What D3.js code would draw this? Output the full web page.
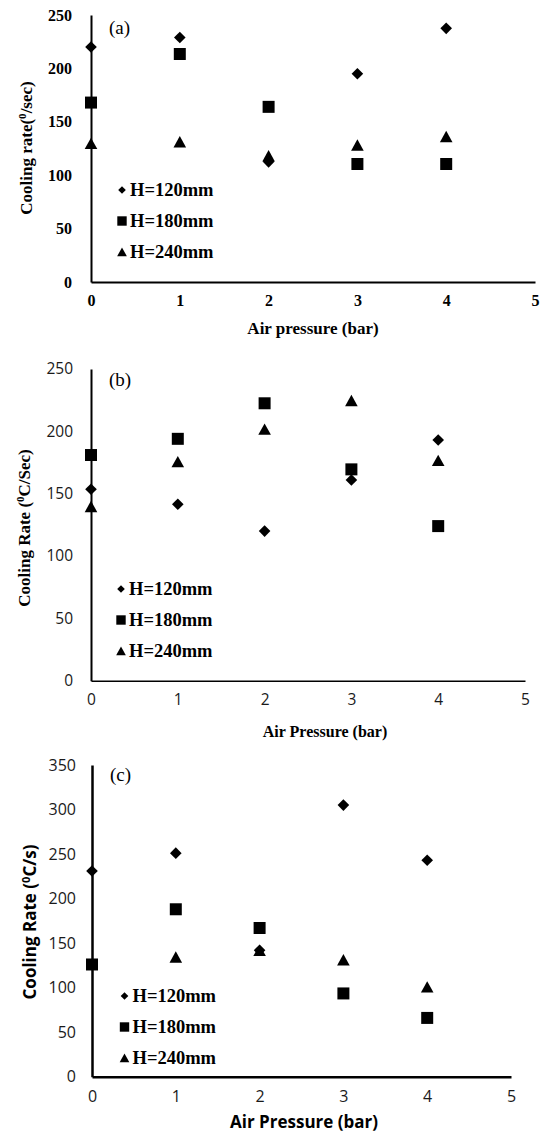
<!DOCTYPE html>
<meta charset="utf-8">
<style>
body { margin: 0; background: #fff; }
svg { display: block; }
.serif { font-family: "Liberation Serif", "Times New Roman", serif; }
.sans { font-family: "Open Sans", "Liberation Sans", sans-serif; }
</style>
<svg width="542" height="1133"></svg>
<script src="https://d3js.org/d3.v7.min.js"></script>
<script>

// data
var pressure = [0, 1, 2, 3, 4];
var xTicks = [0, 1, 2, 3, 4, 5];
var yTicksAB = [0, 50, 100, 150, 200, 250];
var yTicksC = [0, 50, 100, 150, 200, 250, 300, 350];
var legendLabels = ["H=120mm", "H=180mm", "H=240mm"];

var a120 = [220, 229, 112.5, 195, 237.5];
var a180 = [168, 213.5, 164, 110.5, 110.5];
var a240 = [129.5, 131, 118, 128, 136];

var b120 = [153.5, 141.5, 120, 161, 193];
var b180 = [181, 194, 222.5, 169.5, 124];
var b240 = [139.5, 175.5, 201.5, 224.5, 176.5];

var c120 = [231, 251, 142, 305, 243];
var c180 = [126, 188, 167, 93.5, 66];
var c240 = [null, 134, 141.5, 131, 100.5];

var svg = d3.select("svg");

// marker paths, s = half size
function diamond(s) { return "M0," + (-s) + "L" + s + ",0L0," + s + "L" + (-s) + ",0Z"; }
function square(s) { return "M" + (-s) + "," + (-s) + "h" + (2 * s) + "v" + (2 * s) + "h" + (-2 * s) + "Z"; }
function triangle(s) { return "M0," + (-s) + "L" + (s * 1.05) + "," + (s * 0.9) + "L" + (-s * 1.05) + "," + (s * 0.9) + "Z"; }
var shapes = [diamond, square, triangle];
var markerSize = [5.8, 6, 6];
var legendSize = [3.8, 4.7, 4.6];

function panel(o) {
  var x = d3.scaleLinear().domain([0, 5]).range([o.x0, o.x1]);
  var y = d3.scaleLinear().domain([0, o.ymax]).range([o.y0, o.y1]);
  var g = svg.append("g");

  var yAxis = g.append("g")
      .attr("transform", "translate(" + o.x0 + ",0)")
      .call(d3.axisLeft(y).tickValues(o.yTicks).tickFormat(d3.format("d")).tickSize(0).tickPadding(o.yPad));
  var xAxis = g.append("g")
      .attr("transform", "translate(0," + o.y0 + ")")
      .call(d3.axisBottom(x).tickValues(xTicks).tickFormat(d3.format("d")).tickSize(0).tickPadding(o.xPad));

  yAxis.select(".domain").attr("stroke", "#000").attr("stroke-width", o.yw);
  xAxis.select(".domain").attr("stroke", "#000").attr("stroke-width", o.xw);
  [yAxis, xAxis].forEach(function(a) {
    a.selectAll("text")
        .attr("class", o.tickFont)
        .attr("font-size", o.tickSize)
        .attr("font-weight", o.tickWeight)
        .attr("fill", o.tickColor);
  });

  o.series.forEach(function(vals, k) {
    g.append("g").selectAll("path")
        .data(pressure.map(function(p, i) { return [p, vals[i]]; }).filter(function(d) { return d[1] != null; }))
      .enter().append("path")
        .attr("d", shapes[k](markerSize[k]))
        .attr("transform", function(d) { return "translate(" + x(d[0]) + "," + y(d[1]) + ")"; })
        .attr("fill", "#000");
  });

  // legend
  legendLabels.forEach(function(lbl, k) {
    var cy = o.legY + k * o.legStep;
    g.append("path")
        .attr("d", shapes[k](legendSize[k]))
        .attr("transform", "translate(" + o.legX + "," + cy + ")")
        .attr("fill", "#000");
    g.append("text")
        .attr("class", "serif")
        .attr("x", o.legX + 8)
        .attr("y", cy + 6)
        .attr("font-size", 18.5)
        .attr("font-weight", "bold")
        .text(lbl);
  });

  g.append("text")
      .attr("class", "serif")
      .attr("x", o.x0 + 18)
      .attr("y", o.tagY)
      .attr("font-size", 19)
      .text(o.tag);

  g.append("text")
      .attr("class", o.xTitleFont)
      .attr("x", o.xTitleX)
      .attr("y", o.xTitleY)
      .attr("text-anchor", "middle")
      .attr("font-size", o.xTitleSize)
      .attr("font-weight", "bold")
      .text(o.xTitle);

  var yt = g.append("text")
      .attr("class", o.yTitleFont)
      .attr("transform", "translate(" + o.yTitleX + "," + o.yTitleY + ") rotate(-90)")
      .attr("text-anchor", "middle")
      .attr("font-size", o.yTitleSize)
      .attr("font-weight", "bold");
  yt.append("tspan").text(o.yTitle[0]);
  yt.append("tspan").attr("font-size", o.yTitleSize * 0.65).attr("dy", -o.yTitleSize * 0.38).text("0");
  yt.append("tspan").attr("dy", o.yTitleSize * 0.38).text(o.yTitle[1]);
}

panel({
  x0: 91, x1: 535, y0: 282, y1: 15, ymax: 250, yTicks: yTicksAB,
  yPad: 19, xPad: 12.5, yw: 2, xw: 2,
  tickFont: "serif", tickSize: 16, tickWeight: "bold", tickColor: "#000",
  series: [a120, a180, a240],
  legX: 122, legY: 190, legStep: 31,
  tag: "(a)", tagY: 34,
  xTitle: "Air pressure (bar)", xTitleFont: "serif", xTitleSize: 17, xTitleX: 313, xTitleY: 334,
  yTitle: ["Cooling rate(", "/sec)"], yTitleFont: "serif", yTitleSize: 17, yTitleX: 32, yTitleY: 148
});

panel({
  x0: 91, x1: 525, y0: 680.7, y1: 369, ymax: 250, yTicks: yTicksAB,
  yPad: 18, xPad: 13, yw: 2, xw: 1.5,
  tickFont: "sans", tickSize: 15.5, tickWeight: "normal", tickColor: "#1a1a1a",
  series: [b120, b180, b240],
  legX: 121, legY: 589, legStep: 31,
  tag: "(b)", tagY: 386,
  xTitle: "Air Pressure (bar)", xTitleFont: "serif", xTitleSize: 16, xTitleX: 325, xTitleY: 737,
  yTitle: ["Cooling Rate (", "C/Sec)"], yTitleFont: "serif", yTitleSize: 17, yTitleX: 30, yTitleY: 528
});

panel({
  x0: 92, x1: 511, y0: 1076.7, y1: 765, ymax: 350, yTicks: yTicksC,
  yPad: 16, xPad: 13.5, yw: 2.5, xw: 2.5,
  tickFont: "sans", tickSize: 16, tickWeight: "normal", tickColor: "#1a1a1a",
  series: [c120, c180, c240],
  legX: 124.5, legY: 996, legStep: 31,
  tag: "(c)", tagY: 781,
  xTitle: "Air Pressure (bar)", xTitleFont: "sans", xTitleSize: 17, xTitleX: 304, xTitleY: 1128,
  yTitle: ["Cooling Rate (", "C/s)"], yTitleFont: "sans", yTitleSize: 17, yTitleX: 36, yTitleY: 922
});

</script>
